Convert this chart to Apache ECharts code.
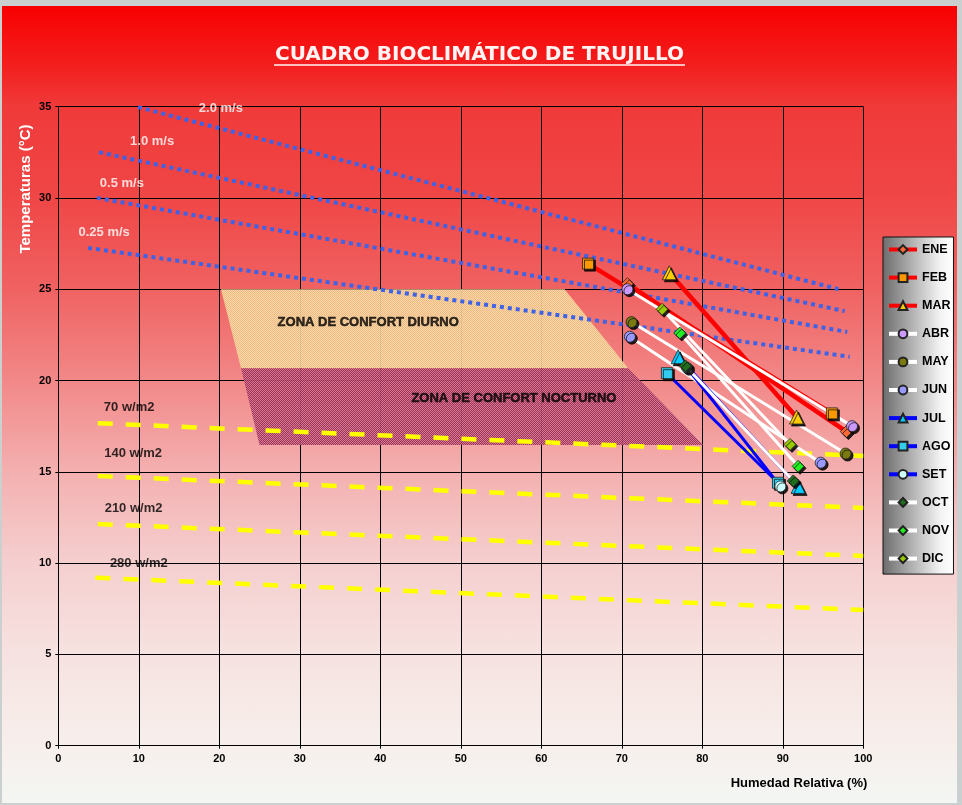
<!DOCTYPE html>
<html><head><meta charset="utf-8">
<script src="https://cdn.jsdelivr.net/npm/echarts@6/dist/echarts.min.js"></script>
<style>
html,body{margin:0;padding:0;background:#c9d0cf;width:962px;height:805px;overflow:hidden;}
#bg{position:absolute;left:2px;top:6px;width:955px;height:797px;
background:linear-gradient(to bottom,#f80000 0%,#f41c1c 7%,#f03a3a 12.7%,#f04646 24%,#f06262 35.5%,#f28888 47%,#f4b0b0 58.5%,#f5cfcf 70%,#f6e2e0 81%,#f7efec 93%,#f3f6f3 100%);}
#chart{position:absolute;left:0;top:0;width:962px;height:805px;}
</style></head>
<body><div id="bg"></div><div id="chart"></div>
<script>
// ---- data ----
const months = ['ENE','FEB','MAR','ABR','MAY','JUN','JUL','AGO','SET','OCT','NOV','DIC'];
const rhDay   = [70.7, 65.8, 75.9, 70.7, 71.2, 71.0, 77.0, 75.6, 78.1, 77.9, 77.2, 75.0];
const tDay    = [25.3, 26.4, 25.9, 25.0, 23.2, 22.4, 21.3, 20.4, 20.7, 20.8, 22.6, 23.9];
const rhNight = [97.9, 96.1, 91.7, 98.6, 97.8, 94.7, 91.9, 89.4, 89.7, 91.3, 91.9, 90.9];
const tNight  = [17.2, 18.2, 18.0, 17.5, 16.0, 15.5, 14.2, 14.4, 14.2, 14.5, 15.3, 16.5];

const windLabels = ['2.0 m/s','1.0 m/s','0.5 m/s','0.25 m/s'];
const windStart  = [[9.9,34.97],[5.06,32.5],[4.8,30.0],[3.7,27.26]];
const windEnd    = [[96.9,25.0],[97.7,23.8],[98.0,22.66],[98.3,21.3]];
const windLabelAt = [[20.2,34.9],[11.65,33.1],[7.9,30.8],[5.7,28.1]];

const radLabels = ['70 w/m2','140 w/m2','210 w/m2','280 w/m2'];
const radStart  = [[4.9,17.66],[4.9,14.77],[4.9,12.14],[4.6,9.2]];
const radEnd    = [[100,15.87],[100,13.02],[100,10.39],[100,7.43]];
const radLabelAt = [[8.8,18.55],[9.3,16.0],[9.35,13.0],[10.0,10.0]];

const zoneNames = ['ZONA DE CONFORT DIURNO','ZONA DE CONFORT NOCTURNO'];
const zoneDiurno   = [[20.2,25.0],[62.9,25.0],[70.8,20.67],[22.7,20.67]];
const zoneNocturno = [[22.7,20.67],[70.8,20.67],[80.1,16.47],[25.0,16.47]];
const zoneLabelAt  = [[38.5,23.2],[56.6,19.0]];

const xTicks = {min:0,max:100,interval:10};
const yTicks = {min:0,max:35,interval:5};

// ---- styles ----
const symbols = ['diamond','rect','triangle','circle','circle','circle','triangle','rect','circle','diamond','diamond','diamond'];
const markerColors = ['#ff6a33','#ff9900','#ffcc00','#cc99ff','#7a7a10','#9999ff','#00ccff','#33ccee','#ccffff','#1f6e1f','#22ee22','#99cc00'];
const lineColors = ['#ff0000','#ff0000','#ff0000','#ffffff','#ffffff','#ffffff','#0000ff','#0000ff','#0000ff','#ffffff','#ffffff','#ffffff'];
const FONT = 'Liberation Sans, Arial, sans-serif';

function makePattern(c1,c2){
  const cv=document.createElement('canvas');cv.width=2;cv.height=2;
  const ctx=cv.getContext('2d');
  ctx.fillStyle=c1;ctx.fillRect(0,0,2,2);
  ctx.fillStyle=c2;ctx.fillRect(0,0,1,1);ctx.fillRect(1,1,1,1);
  return {image:cv,repeat:'repeat'};
}
const diurnoFill = makePattern('#fae2a6','#eebf8c');
const nocturnoFill = makePattern('#962a56','#d67890');

const chart = echarts.init(document.getElementById('chart'), null, {renderer:'canvas'});

const series = [];
// comfort zones
[zoneDiurno, zoneNocturno].forEach((poly, k) => {
  series.push({
    type:'custom', silent:true, z:1, clip:false,
    data:[[0,0]],
    renderItem:(params, api) => ({
      type:'polygon',
      shape:{points: poly.map(p => api.coord(p))},
      style:{fill: k===0 ? diurnoFill : nocturnoFill, opacity:0.92}
    })
  });
});
// wind lines
windLabels.forEach((n,i) => {
  series.push({type:'line', silent:true, z:3, symbol:'none',
    data:[windStart[i], windEnd[i]],
    lineStyle:{color:'#3f63e6', width:4, type:[4,4]}});
});
// radiation lines
radLabels.forEach((n,i) => {
  series.push({type:'line', silent:true, z:3, symbol:'none',
    data:[radStart[i], radEnd[i]],
    lineStyle:{color:'#ffff00', width:4.5, type:[15,13]}});
});
// months
months.forEach((m,i) => {
  const red = lineColors[i]==='#ff0000';
  series.push({
    name:m, type:'line', z:5,
    data:[[rhDay[i],tDay[i]],[rhNight[i],tNight[i]]],
    symbol:symbols[i],
    symbolSize: symbols[i]==='triangle' ? 14 : (symbols[i]==='diamond' ? 12 : 11),
    lineStyle:{color:lineColors[i], width: red ? 4.5 : 3},
    itemStyle:{color:markerColors[i], borderColor:'#222', borderWidth:0.8,
      shadowColor:'rgba(0,0,0,0.85)', shadowOffsetX:2, shadowOffsetY:2, shadowBlur:0},
    emphasis:{disabled:true}
  });
});
// text labels (anchored in data coordinates)
function labelSeries(names, at, color, size, heavy){
  return {type:'scatter', silent:true, z:8, symbolSize:0,
    data: names.map((n,i) => ({name:n, value:at[i]})),
    label:{show:true, position:'inside', formatter:'{b}', color:color,
      fontWeight:'bold', fontSize:size, fontFamily:FONT,
      textBorderColor: heavy ? color : 'transparent', textBorderWidth: heavy ? 0.5 : 0}};
}
series.push(labelSeries(windLabels, windLabelAt, '#ffffff', 13, false));
series.push(labelSeries(radLabels, radLabelAt, '#000000', 13, false));
series.push(labelSeries(zoneNames, zoneLabelAt, '#000000', 13, true));

chart.setOption({
  animation:false,
  backgroundColor:'transparent',
  grid:{left:58.3, right:98.7, top:106.6, bottom:59.3, containLabel:false},
  xAxis:{type:'value', min:xTicks.min, max:xTicks.max, interval:xTicks.interval,
    axisLine:{show:true, lineStyle:{color:'#000', width:1}},
    axisTick:{show:true, length:3, lineStyle:{color:'#000'}},
    splitLine:{show:true, lineStyle:{color:'#000', width:1}},
    axisLabel:{color:'#000', fontWeight:'bold', fontSize:11, fontFamily:FONT, margin:8}},
  yAxis:{type:'value', min:yTicks.min, max:yTicks.max, interval:yTicks.interval,
    axisLine:{show:true, lineStyle:{color:'#000', width:1}},
    axisTick:{show:true, length:3, lineStyle:{color:'#000'}},
    splitLine:{show:true, lineStyle:{color:'#000', width:1}},
    axisLabel:{color:'#000', fontWeight:'bold', fontSize:11, fontFamily:FONT, margin:7}},
  legend:{
    data:months, orient:'vertical', left:883, top:237,
    itemWidth:28, itemHeight:11, itemGap:13.1, padding:[5,3,8,4],
    selectedMode:false,
    lineStyle:{width:4},
    backgroundColor:{type:'linear',x:0,y:0,x2:1,y2:0,colorStops:[
      {offset:0,color:'#6c6c6c'},{offset:0.45,color:'#b8b8b8'},{offset:0.8,color:'#f2f2f2'},{offset:1,color:'#ffffff'}]},
    borderColor:'#111', borderWidth:1, borderRadius:0,
    textStyle:{color:'#000', fontWeight:'bold', fontSize:12.5, fontFamily:FONT, lineHeight:15}
  },
  graphic:[
    {type:'text', x:479.5, y:55, style:{text:'CUADRO BIOCLIMÁTICO DE TRUJILLO', fill:'#fff4f4',
      font:'bold 20px DejaVu Sans, Liberation Sans, sans-serif', align:'center', verticalAlign:'middle'}, z:10},
    {type:'line', shape:{x1:274, y1:65, x2:685, y2:65}, style:{stroke:'#fff4f4', lineWidth:1.5}, z:10},
    {type:'text', x:26, y:189, rotation:Math.PI/2, style:{text:'Temperaturas (°C)', fill:'#ffffff',
      font:'bold 15px '+FONT, align:'center', verticalAlign:'middle'}, z:10},
    {type:'text', x:799, y:783, style:{text:'Humedad Relativa (%)', fill:'#000',
      font:'bold 13px '+FONT, align:'center', verticalAlign:'middle'}, z:10}
  ],
  series:series
});
</script>
</body></html>
